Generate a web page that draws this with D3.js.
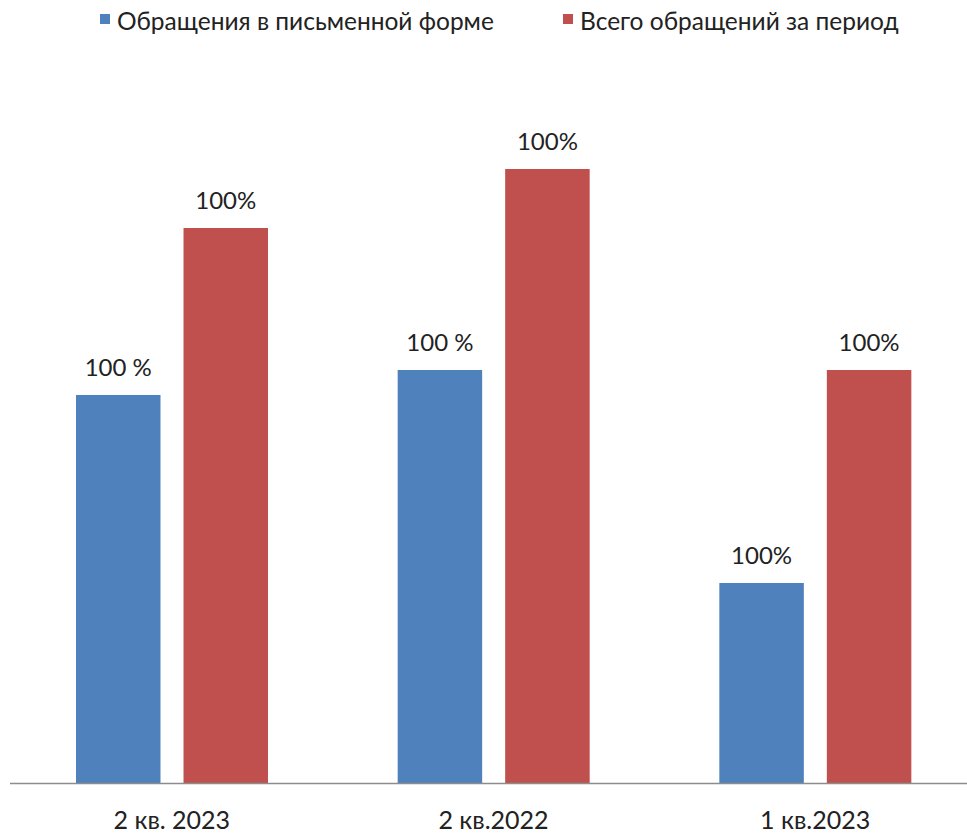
<!DOCTYPE html>
<html>
<head>
<meta charset="utf-8">
<script src="https://cdn.jsdelivr.net/npm/d3@7"></script>
<style>
  body { margin: 0; background: #fff; }
  text { font-family: Lato, "Open Sans", sans-serif; fill: #222; }
</style>
</head>
<body>
<div id="chart"></div>
<script>
// categories and series
var categories = ["2 кв. 2023", "2 кв.2022", "1 кв.2023"];
var seriesNames = ["Обращения в письменной форме", "Всего обращений за период"];
var writtenValues = [388, 413, 200];
var totalValues = [555, 614, 413];
var writtenLabels = ["100 %", "100 %", "100%"];
var totalLabels = ["100%", "100%", "100%"];
var colors = ["#4f81bd", "#c0504d"];

var width = 967, height = 833;
var baseY = 783;

var svg = d3.select("#chart").append("svg")
  .attr("width", width)
  .attr("height", height);

// scales
var x0 = d3.scaleBand().domain(categories).range([11, 976]).padding(0);
var x1 = d3.scaleBand().domain([0, 1]).range([65, 257]).paddingInner(0.214);
var y = d3.scaleLinear().domain([0, 700]).range([baseY, baseY - 700]);

var rows = categories.map(function(c, i) {
  return {
    cat: c,
    vals: [
      {s: 0, v: writtenValues[i], label: writtenLabels[i]},
      {s: 1, v: totalValues[i], label: totalLabels[i]}
    ]
  };
});

var groups = svg.selectAll(".grp")
  .data(rows)
  .enter().append("g")
    .attr("class", "grp")
    .attr("transform", function(d) { return "translate(" + x0(d.cat) + ",0)"; });

groups.selectAll("rect")
  .data(function(d) { return d.vals; })
  .enter().append("rect")
    .attr("x", function(d) { return x1(d.s); })
    .attr("width", x1.bandwidth())
    .attr("y", function(d) { return y(d.v); })
    .attr("height", function(d) { return y(0) - y(d.v); })
    .style("fill", function(d) { return colors[d.s]; });

// value labels
groups.selectAll("text.val")
  .data(function(d) { return d.vals; })
  .enter().append("text")
    .attr("class", "val")
    .attr("x", function(d) { return x1(d.s) + x1.bandwidth() / 2; })
    .attr("y", function(d) { return y(d.v) - 19; })
    .attr("text-anchor", "middle")
    .style("font-size", "24px")
    .text(function(d) { return d.label; });

// axis line + category labels
var xAxis = d3.axisBottom(x0).tickSize(0).tickPadding(28);
var ax = svg.append("g")
  .attr("transform", "translate(0," + baseY + ")")
  .call(xAxis);
ax.select(".domain").attr("d", "M10,0.5H967").attr("stroke", "#8c8c8c").attr("stroke-width", 1.5);
ax.selectAll("text").style("font-size", "25px").style("fill", "#222")
  .style("font-family", "Lato, 'Open Sans', sans-serif");

// legend
var legendX = [100, 563];
var legend = svg.selectAll(".leg")
  .data(seriesNames)
  .enter().append("g")
    .attr("class", "leg")
    .attr("transform", function(d, i) { return "translate(" + legendX[i] + ",0)"; });
legend.append("rect")
  .attr("x", 0).attr("y", 14)
  .attr("width", 10).attr("height", 10)
  .style("fill", function(d, i) { return colors[i]; });
legend.append("text")
  .attr("x", 17).attr("y", 30)
  .style("font-size", "24.5px")
  .text(function(d) { return d; });
</script>
</body>
</html>
